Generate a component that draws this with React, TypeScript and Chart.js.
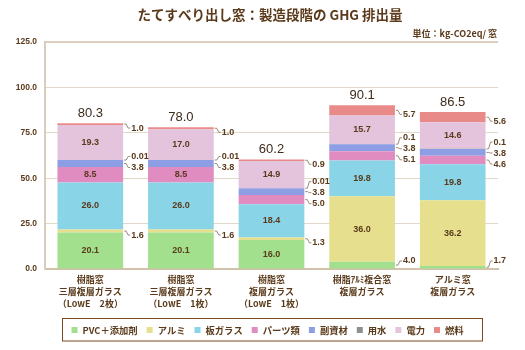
import { useEffect, useRef } from "react";
import { Chart, registerables } from "chart.js";

Chart.register(...registerables);

const categories: string[][] = [
  ["樹脂窓", "三層複層ガラス", "（LowE　2枚）"],
  ["樹脂窓", "三層複層ガラス", "（LowE　1枚）"],
  ["樹脂窓", "複層ガラス", "（LowE　1枚）"],
  ["樹脂ｱﾙﾐ複合窓", "複層ガラス"],
  ["アルミ窓", "複層ガラス"],
];
const seriesNames = ["PVC＋添加剤", "アルミ", "板ガラス", "パーツ類", "副資材", "用水", "電力", "燃料"];
const pvc = [20.1, 20.1, 16.0, 4.0, 1.7];
const alumi = [1.6, 1.6, 1.3, 36.0, 36.2];
const glass = [26.0, 26.0, 18.4, 19.8, 19.8];
const parts = [8.5, 8.5, 5.0, 5.1, 4.6];
const subMat = [3.8, 3.8, 3.8, 3.8, 3.8];
const water = [0.01, 0.01, 0.01, 0.1, 0.1];
const power = [19.3, 17.0, 14.9, 15.7, 14.6];
const fuel = [1.0, 1.0, 0.9, 5.7, 5.6];
const totals = [80.3, 78.0, 60.2, 90.1, 86.5];
const yMax = 125;
const yStep = 25;
const title = "たてすべり出し窓：製造段階の GHG 排出量";
const unitText = "単位：kg-CO2eq/ 窓";

const seriesValues = [pvc, alumi, glass, parts, subMat, water, power, fuel];
const colors = ["#a2e08e", "#e6e08e", "#8ad4e8", "#e08cc0", "#8e9ee4", "#8c9090", "#e4c4dc", "#e88a88"];

const BROWN = "#5a3a1a";
const JP = '"Noto Sans CJK JP", sans-serif';
const NUM = '"Liberation Sans", "Noto Sans CJK JP", sans-serif';

const fmt = (v: number) => (v < 0.1 ? v.toFixed(2) : v.toFixed(1));

const labelPlugin = {
  id: "valueLabels",
  afterDatasetsDraw(chart: any) {
    const ctx = chart.ctx as CanvasRenderingContext2D;
    const n = chart.data.labels.length;
    const bottom = chart.chartArea.bottom;
    ctx.save();
    for (let j = 0; j < n; j++) {
      const outs: { v: number; cy: number; y: number }[] = [];
      let right = 0;
      let cx = 0;
      let top = Infinity;
      chart.data.datasets.forEach((ds: any, i: number) => {
        const el: any = chart.getDatasetMeta(i).data[j];
        const v = ds.data[j] as number;
        const cy = (el.y + el.base) / 2;
        right = el.x + el.width / 2;
        cx = el.x;
        top = Math.min(top, el.y);
        if (v >= 7) {
          ctx.font = `bold 9px ${NUM}`;
          ctx.fillStyle = BROWN;
          ctx.textAlign = "center";
          ctx.textBaseline = "middle";
          ctx.fillText(fmt(v), el.x, cy);
        } else {
          outs.push({ v, cy, y: Math.min(cy + 4, bottom - 8) });
        }
      });
      outs.sort((a, b) => b.cy - a.cy);
      for (let k = 1; k < outs.length; k++) {
        if (outs[k].y > outs[k - 1].y - 11) outs[k].y = outs[k - 1].y - 11;
      }
      ctx.strokeStyle = "#9a8a78";
      ctx.lineWidth = 1;
      outs.forEach((o) => {
        ctx.beginPath();
        ctx.moveTo(right + 1, o.cy);
        ctx.lineTo(right + 3, o.cy);
        ctx.lineTo(right + 5, o.y);
        ctx.lineTo(right + 7, o.y);
        ctx.stroke();
        ctx.font = `bold 9px ${NUM}`;
        ctx.fillStyle = BROWN;
        ctx.textAlign = "left";
        ctx.textBaseline = "middle";
        ctx.fillText(fmt(o.v), right + 8, o.y);
      });
      ctx.font = `13px ${NUM}`;
      ctx.fillStyle = "#3d2b1a";
      ctx.textAlign = "center";
      ctx.textBaseline = "middle";
      ctx.fillText(totals[j].toFixed(1), cx, top - 10);
    }
    ctx.restore();
  },
  afterDraw(chart: any) {
    const ctx = chart.ctx as CanvasRenderingContext2D;
    ctx.save();
    // title
    ctx.font = `bold 13.5px ${JP}`;
    ctx.fillStyle = BROWN;
    ctx.textAlign = "center";
    ctx.textBaseline = "middle";
    ctx.fillText(title, 270, 15);
    // unit
    ctx.font = `bold 9px ${JP}`;
    ctx.textAlign = "right";
    ctx.fillText(unitText, 497, 34);
    // legend
    ctx.strokeStyle = "#7a4a20";
    ctx.lineWidth = 1;
    ctx.strokeRect(62.5, 318.5, 420, 22.5);
    ctx.font = `bold 9.3px ${JP}`;
    ctx.textAlign = "left";
    let x = 71.5;
    const y = 330;
    chart.data.datasets.forEach((ds: any) => {
      ctx.fillStyle = ds.backgroundColor;
      ctx.fillRect(x, y - 3, 6, 6);
      ctx.fillStyle = BROWN;
      ctx.fillText(ds.label, x + 11, y);
      x += 11 + ctx.measureText(ds.label).width + 9;
    });
    ctx.restore();
  },
};

export default function App() {
  const ref = useRef<HTMLCanvasElement>(null);
  useEffect(() => {
    document.body.style.margin = "0";
    const canvas = ref.current!;
    const chart = new Chart(canvas, {
      type: "bar",
      data: {
        labels: categories,
        datasets: seriesNames.map((name, i) => ({
          label: name,
          data: seriesValues[i],
          backgroundColor: colors[i],
          borderWidth: 0,
          barPercentage: 0.725,
          categoryPercentage: 1,
        })),
      },
      options: {
        responsive: false,
        animation: false,
        layout: { padding: { top: 42, right: 27, left: 0, bottom: 0 } },
        plugins: { legend: { display: false }, tooltip: { enabled: false }, title: { display: false } },
        scales: {
          x: {
            stacked: true,
            grid: { display: false, drawTicks: false },
            border: { display: true, color: "#d2c2aa", width: 2 },
            ticks: {
              color: BROWN,
              font: { family: JP, size: 9, weight: "bold", lineHeight: 1.38 },
              padding: 4,
              maxRotation: 0,
              autoSkip: false,
            },
            afterFit: (s: any) => {
              s.height = 81;
            },
          },
          y: {
            stacked: true,
            min: 0,
            max: yMax,
            grid: {
              drawTicks: false,
              color: (c: any) => (c.tick && c.tick.value === yMax ? "#dcd0c0" : "#e2d8ca"),
              lineWidth: (c: any) => (c.tick && c.tick.value === yMax ? 2 : 1),
            },
            border: { display: true, color: "#d8ccba", width: 2 },
            ticks: {
              stepSize: yStep,
              color: BROWN,
              font: { family: NUM, size: 8.5, weight: "bold" },
              padding: 8,
              callback: (v: any) => Number(v).toFixed(1),
            },
            afterFit: (s: any) => {
              s.width = 45;
            },
          },
        },
      },
      plugins: [labelPlugin],
    });
    return () => chart.destroy();
  }, []);
  return <canvas ref={ref} width={525} height={350} style={{ display: "block" }} />;
}
